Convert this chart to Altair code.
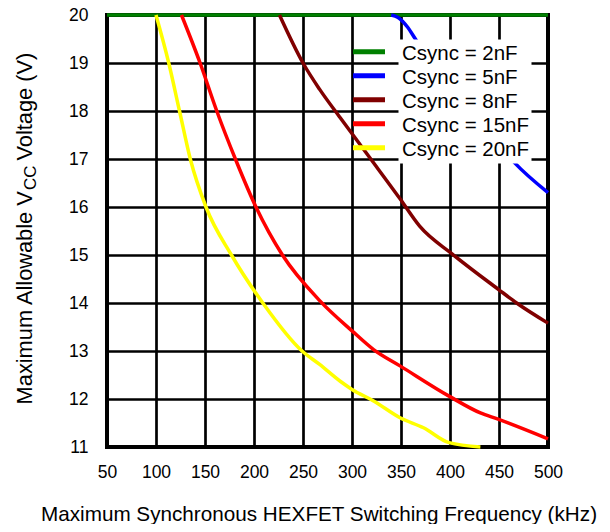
import json
import altair as alt
import pandas as pd

series_names = ["Csync = 2nF", "Csync = 5nF", "Csync = 8nF", "Csync = 15nF", "Csync = 20nF"]
series_colors = ["#008000", "#0000FF", "#800000", "#FF0000", "#FFFF00"]

x_ticks = [50, 100, 150, 200, 250, 300, 350, 400, 450, 500]
y_ticks = [11, 12, 13, 14, 15, 16, 17, 18, 19, 20]

freq_2nf = [50, 500]
volt_2nf = [20.0, 20.0]

freq_5nf = [340, 347, 357, 365, 380, 400, 420, 440, 466, 500]
volt_5nf = [20.0, 19.95, 19.74, 19.49, 19.1, 18.6, 18.05, 17.55, 16.92, 16.3]

freq_8nf = [226, 250, 267, 288, 318, 349, 369, 403, 449, 468, 500]
volt_8nf = [20.0, 19.0, 18.45, 17.86, 17.03, 16.17, 15.6, 15.01, 14.29, 14.0, 13.58]

freq_15nf = [126, 145, 162, 181, 202, 229, 267, 300, 322, 349, 399, 431, 449, 500]
volt_15nf = [20.0, 19.0, 18.0, 17.0, 16.0, 15.0, 14.05, 13.42, 13.03, 12.69, 12.06, 11.71, 11.58, 11.17]

freq_20nf = [100, 113, 124, 135, 151, 177, 209, 249, 267, 288, 300, 322, 349, 373, 399, 431]
volt_20nf = [20.0, 19.0, 18.0, 17.0, 16.0, 15.0, 14.0, 13.0, 12.72, 12.37, 12.2, 11.96, 11.61, 11.4, 11.09, 11.0]

x_title = "Maximum Synchronous HEXFET Switching Frequency (kHz)"
y_title_parts = ["Maximum Allowable V", "CC", "Voltage (V)"]

FONT = "Liberation Sans"

rows = []
for i, (name, fs, vs) in enumerate(zip(series_names,
                                       [freq_2nf, freq_5nf, freq_8nf, freq_15nf, freq_20nf],
                                       [volt_2nf, volt_5nf, volt_8nf, volt_15nf, volt_20nf])):
    for f, v in zip(fs, vs):
        rows.append({"freq": f, "volt": v, "series": name, "idx": i})
df = pd.DataFrame(rows)

x_enc = alt.X("freq:Q",
              scale=alt.Scale(domain=[50, 500], nice=False, zero=False),
              axis=alt.Axis(values=x_ticks, title=x_title, labelPadding=16,
                            titleFontSize=20.7, titleX=211.5, titleY=73,
                            titleBaseline="alphabetic", titleAlign="center"))
y_enc = alt.Y("volt:Q",
              scale=alt.Scale(domain=[11, 20], nice=False, zero=False),
              axis=alt.Axis(values=y_ticks, title=None, labelPadding=19))

base = alt.Chart(df)

# symbols-only legend (transparent background so grid shows through)
lines = base.mark_line(strokeWidth=3.5, interpolate="monotone").encode(
    x=x_enc,
    y=y_enc,
    color=alt.Color("series:N",
                    scale=alt.Scale(domain=series_names, range=series_colors),
                    legend=alt.Legend(title=None, orient="none", legendX=243.5, legendY=24.7,
                                      symbolType="stroke", symbolSize=1024, symbolStrokeWidth=5,
                                      clipHeight=24, rowPadding=0, padding=0,
                                      labelExpr="''", labelFontSize=1)),
)

# labels-only legend with white background
label_expr = json.dumps(series_names) + "[datum.value]"
label_pts = base.mark_point(opacity=0, size=1).encode(
    x=x_enc,
    y=y_enc,
    shape=alt.Shape("idx:N",
                    scale=alt.Scale(domain=list(range(len(series_names)))),
                    legend=alt.Legend(title=None, orient="none", legendX=291.5, legendY=24.5,
                                      symbolSize=0, symbolStrokeWidth=0, symbolOpacity=0,
                                      labelOffset={"expr": "-19"}, clipHeight=24, rowPadding=0,
                                      fillColor="white", padding=2, labelExpr=label_expr,
                                      labelFont=FONT, labelFontSize=20.5, labelColor="black")),
)

t1 = alt.Chart(pd.DataFrame({"t": [y_title_parts[0]]})).mark_text(
    font=FONT, fontSize=21.8, angle=270, align="left", baseline="alphabetic", color="black"
).encode(text="t:N", x=alt.value(-75), y=alt.value(389.4))

t2 = alt.Chart(pd.DataFrame({"t": [y_title_parts[1]]})).mark_text(
    font=FONT, fontSize=17, angle=270, align="left", baseline="alphabetic", color="black"
).encode(text="t:N", x=alt.value(-71.5), y=alt.value(175))

t3 = alt.Chart(pd.DataFrame({"t": [y_title_parts[2]]})).mark_text(
    font=FONT, fontSize=21.8, angle=270, align="left", baseline="alphabetic", color="black"
).encode(text="t:N", x=alt.value(-75), y=alt.value(145.5))

chart = alt.layer(lines, label_pts, t1, t2, t3).properties(
    width=441, height=432,
    autosize=alt.AutoSizeParams(type="none"),
    padding={"left": 99, "top": 7, "right": 54, "bottom": 77},
    background="white",
).configure_view(
    stroke="black", strokeWidth=4
).configure_axis(
    labelFont=FONT, labelFontSize=17.5, labelColor="black",
    titleFont=FONT, titleColor="black", titleFontWeight="normal",
    grid=True, gridColor="black", gridWidth=2.7, gridOpacity=1,
    domain=False, ticks=False, labelFlush=False, labelOverlap=False,
).configure_legend(
    labelFont=FONT
)

chart.save("out.html", embed_options={"renderer": "svg", "actions": False})
